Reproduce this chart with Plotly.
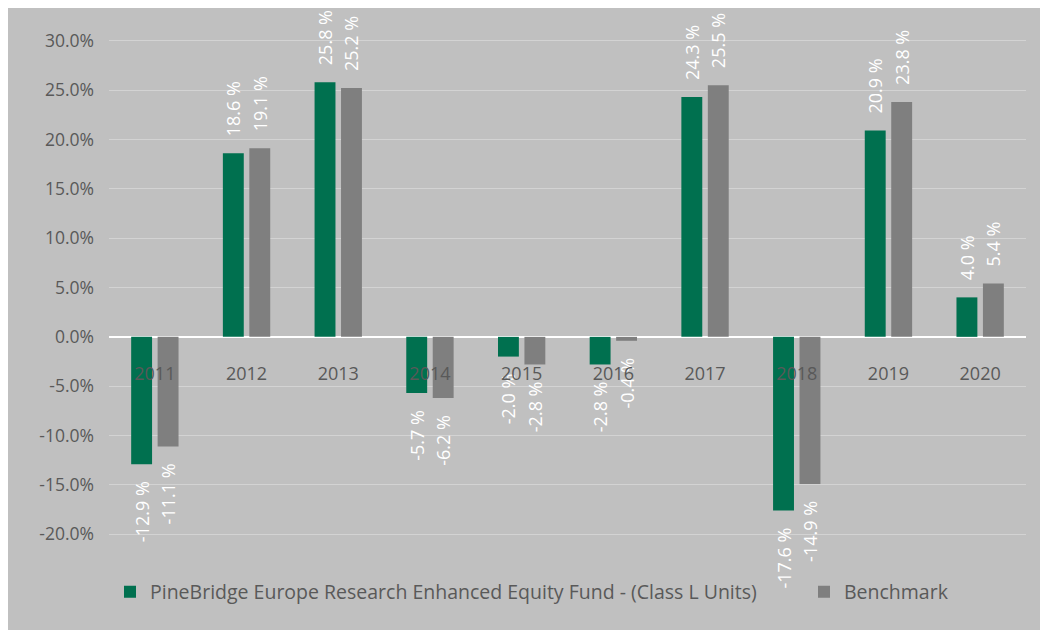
import plotly.graph_objects as go

years = ["2011", "2012", "2013", "2014", "2015", "2016", "2017", "2018", "2019", "2020"]
fund = [-12.9, 18.6, 25.8, -5.7, -2.0, -2.8, 24.3, -17.6, 20.9, 4.0]
benchmark = [-11.1, 19.1, 25.2, -6.2, -2.8, -0.4, 25.5, -14.9, 23.8, 5.4]
fund_name = "PineBridge Europe Research Enhanced Equity Fund - (Class L Units)"
bench_name = "Benchmark"
y_tick_vals = [-20, -15, -10, -5, 0, 5, 10, 15, 20, 25, 30]
y_tick_labels = ["-20.0%", "-15.0%", "-10.0%", "-5.0%", "0.0%", "5.0%", "10.0%",
                 "15.0%", "20.0%", "25.0%", "30.0%"]

BG = "#c0c0c0"
FONT = "Open Sans"
W, H = 1040, 630
L, R, T, B = 109, 14, 21, 76
pw, ph = W - L - R, H - T - B
ymin, ymax = -22, 32
PAD = "\u00a0" * 3


def label(v):
    s = f"{v:.1f} %"
    return PAD + s if v >= 0 else s + PAD


fig = go.Figure()
for name, vals, col, leg in [(fund_name, fund, "#00704f", "legend"),
                             (bench_name, benchmark, "#7f7f7f", "legend2")]:
    fig.add_trace(go.Bar(
        x=years, y=vals, name=name, marker_color=col, marker_line_width=0,
        text=[label(v) for v in vals], textposition="outside", textangle=-90,
        constraintext="none", cliponaxis=False, hoverinfo="x+y", legend=leg,
        textfont=dict(color="white", size=18, family=FONT),
    ))


def px2x(px):
    return (px - L) / pw


def px2y(py):
    return (H - B - py) / ph


leg_common = dict(orientation="h", xanchor="left", y=px2y(592), yanchor="middle",
                  font=dict(size=19.5, color="#595959"), bgcolor="rgba(0,0,0,0)",
                  itemwidth=30)

fig.update_layout(
    width=W, height=H,
    margin=dict(l=L, r=R, t=T, b=B),
    paper_bgcolor=BG, plot_bgcolor=BG,
    barmode="group", bargap=0.423, bargroupgap=0.21,
    font=dict(family=FONT, color="#595959", size=17),
    showlegend=True,
    legend=dict(x=px2x(110), **leg_common),
    legend2=dict(x=px2x(804), **leg_common),
    xaxis=dict(type="category", anchor="free", position=(0 - ymin) / (ymax - ymin),
               showline=False, showgrid=False, ticks="", ticklabelstandoff=24,
               tickfont=dict(size=18, color="#595959"), layer="above traces"),
    yaxis=dict(range=[ymin, ymax], tickmode="array", tickvals=y_tick_vals, ticktext=y_tick_labels,
               showgrid=True, gridcolor="#d3d3d3", gridwidth=1,
               zeroline=True, zerolinecolor="white", zerolinewidth=2,
               showline=False, ticks="", ticklabelstandoff=14,
               tickfont=dict(size=17.5, color="#595959")),
    shapes=[
        dict(type="rect", xref="paper", yref="paper", x0=px2x(0), x1=px2x(8), y0=px2y(H), y1=px2y(0),
             fillcolor="white", line_width=0, layer="below"),
        dict(type="rect", xref="paper", yref="paper", x0=px2x(0), x1=px2x(W), y0=px2y(8), y1=px2y(0),
             fillcolor="white", line_width=0, layer="below"),
    ],
)

fig.write_html("out.html")
